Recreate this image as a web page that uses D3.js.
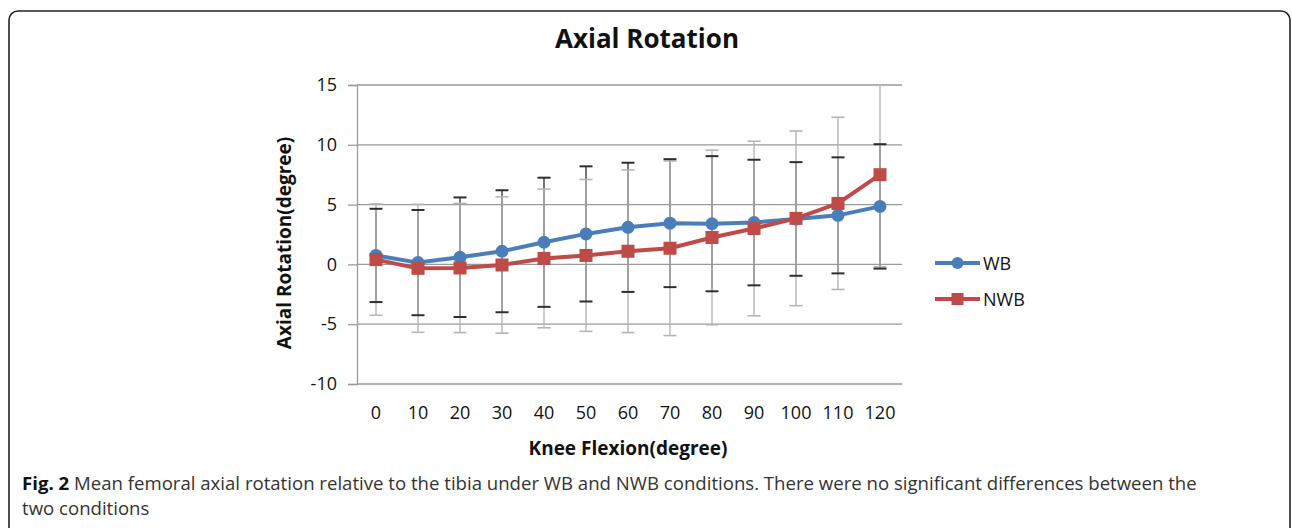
<!DOCTYPE html>
<html>
<head>
<meta charset="utf-8">
<script src="https://cdn.jsdelivr.net/npm/d3@7"></script>
<style>
  html, body { margin: 0; padding: 0; background: #fff; }
  svg { display: block; }
</style>
</head>
<body>
<svg id="chart" width="1292" height="528"></svg>
<script>
// ---- data ----
const categories = ["0","10","20","30","40","50","60","70","80","90","100","110","120"];
const wbMean  = [0.75, 0.15, 0.6, 1.1, 1.85, 2.55, 3.1, 3.45, 3.4, 3.5, 3.8, 4.1, 4.85];
const wbSD    = [3.9, 4.4, 5.0, 5.1, 5.4, 5.65, 5.4, 5.35, 5.65, 5.25, 4.75, 4.85, 5.2];
const nwbMean = [0.4, -0.33, -0.3, -0.05, 0.5, 0.75, 1.1, 1.35, 2.25, 3.0, 3.85, 5.1, 7.5];
const nwbSD   = [4.65, 5.35, 5.4, 5.7, 5.8, 6.35, 6.8, 7.3, 7.3, 7.3, 7.3, 7.2, 7.7];
const yTicks  = [-10, -5, 0, 5, 10, 15];
const seriesNames = ["WB", "NWB"];
const titleText = "Axial Rotation";
const xTitle = "Knee Flexion(degree)";
const yTitle = "Axial Rotation(degree)";

// ---- layout ----
const svg = d3.select("#chart");
const pL = 357, pR = 902, pT = 85, pB = 384;
const BLUE = "#4a7ebb", RED = "#be4b48";
const FONT = "'Open Sans', sans-serif";

// outer rounded frame
svg.append("rect").attr("x", 9).attr("y", 11).attr("width", 1281).attr("height", 560)
  .attr("rx", 9).attr("ry", 9).attr("fill", "none").attr("stroke", "#222").attr("stroke-width", 1.6);

const x = d3.scaleBand().domain(categories).range([355, 901]);
const y = d3.scaleLinear().domain([-10, 15]).range([pB, pT]).clamp(true);
const cx = c => x(c) + x.bandwidth() / 2;

// gridlines
svg.append("g").selectAll("line").data(yTicks).join("line")
  .attr("x1", pL).attr("x2", pR)
  .attr("y1", d => y(d)).attr("y2", d => y(d))
  .attr("stroke", "#9a9a9a").attr("stroke-width", 1.3);

// y axis
const yAxis = svg.append("g").attr("transform", `translate(${pL},0)`)
  .call(d3.axisLeft(y).tickValues(yTicks).tickSize(9).tickPadding(11).tickFormat(d => String(d)));
yAxis.select(".domain").attr("stroke", "#9a9a9a").attr("stroke-width", 1.3);
yAxis.selectAll(".tick line").attr("stroke", "#9a9a9a").attr("stroke-width", 1.3);
yAxis.selectAll("text").attr("font-family", FONT).attr("font-size", 18).attr("fill", "#111");

// x axis
const xAxis = svg.append("g").attr("transform", `translate(0,${pB})`)
  .call(d3.axisBottom(x).tickSize(0).tickPadding(22));
xAxis.select(".domain").remove();
xAxis.selectAll("text").attr("font-family", FONT).attr("font-size", 18).attr("fill", "#111");

// error bars
function errVert(g, mean, sd, color, w) {
  g.selectAll(null).data(categories).join("line")
    .attr("x1", cx).attr("x2", cx)
    .attr("y1", (c, i) => y(mean[i] + sd[i])).attr("y2", (c, i) => y(mean[i] - sd[i]))
    .attr("stroke", color).attr("stroke-width", w);
}
function errCaps(g, mean, sd, color, w) {
  const caps = [];
  categories.forEach((c, i) => {
    [mean[i] + sd[i], mean[i] - sd[i]].forEach(v => { if (v <= 15 && v >= -10) caps.push({c, v}); });
  });
  g.selectAll(null).data(caps).join("line")
    .attr("x1", d => cx(d.c) - 6.5).attr("x2", d => cx(d.c) + 6.5)
    .attr("y1", d => y(d.v)).attr("y2", d => y(d.v))
    .attr("stroke", color).attr("stroke-width", w);
}
const eg = svg.append("g");
errVert(eg, wbMean, wbSD, "#3a3a3a", 1.4);
errVert(eg, nwbMean, nwbSD, "#b5b5b5", 1.4);
errCaps(eg, nwbMean, nwbSD, "#b5b5b5", 1.6);
errCaps(eg, wbMean, wbSD, "#2e2e2e", 2);

// series
const line = d3.line().x((d, i) => cx(categories[i])).y(d => y(d));
function drawSeries(vals, color, shape) {
  svg.append("path").datum(vals).attr("d", line)
    .attr("fill", "none").attr("stroke", color).attr("stroke-width", 4).attr("stroke-linejoin", "round");
  const g = svg.append("g");
  if (shape === "circle") {
    g.selectAll("circle").data(vals).join("circle")
      .attr("cx", (d, i) => cx(categories[i])).attr("cy", d => y(d)).attr("r", 6.5).attr("fill", color);
  } else {
    g.selectAll("rect").data(vals).join("rect")
      .attr("x", (d, i) => cx(categories[i]) - 6.5).attr("y", d => y(d) - 6.5)
      .attr("width", 13).attr("height", 13).attr("fill", color);
  }
}
drawSeries(wbMean, BLUE, "circle");
drawSeries(nwbMean, RED, "rect");

// legend
const leg = svg.append("g");
[[seriesNames[0], BLUE, "circle", 263], [seriesNames[1], RED, "rect", 299]].forEach(([name, col, shape, ly]) => {
  leg.append("line").attr("x1", 935).attr("x2", 980).attr("y1", ly).attr("y2", ly)
    .attr("stroke", col).attr("stroke-width", 4);
  if (shape === "circle") leg.append("circle").attr("cx", 957.5).attr("cy", ly).attr("r", 6).attr("fill", col);
  else leg.append("rect").attr("x", 951.5).attr("y", ly - 6).attr("width", 12).attr("height", 12).attr("fill", col);
  leg.append("text").attr("x", 983).attr("y", ly + 6.5).text(name)
    .attr("font-family", FONT).attr("font-size", 18).attr("fill", "#111");
});

// titles
svg.append("text").attr("x", 647).attr("y", 48).attr("text-anchor", "middle").text(titleText)
  .attr("font-family", FONT).attr("font-weight", "bold").attr("font-size", 26).attr("fill", "#111");
svg.append("text").attr("x", 628).attr("y", 455).attr("text-anchor", "middle").text(xTitle)
  .attr("font-family", FONT).attr("font-weight", "bold").attr("font-size", 19).attr("fill", "#111");
svg.append("text").attr("transform", "translate(291,243) rotate(-90)").attr("text-anchor", "middle").text(yTitle)
  .attr("font-family", FONT).attr("font-weight", "bold").attr("font-size", 19).attr("fill", "#111");

// caption
const cap = svg.append("text").attr("x", 22).attr("y", 490)
  .attr("font-family", FONT).attr("font-size", 18.6).attr("fill", "#333");
cap.append("tspan").attr("font-weight", "bold").attr("fill", "#111").text("Fig. 2");
cap.append("tspan").text(" Mean femoral axial rotation relative to the tibia under WB and NWB conditions. There were no significant differences between the");
svg.append("text").attr("x", 22).attr("y", 515).text("two conditions")
  .attr("font-family", FONT).attr("font-size", 18.6).attr("fill", "#333");
</script>
</body>
</html>
